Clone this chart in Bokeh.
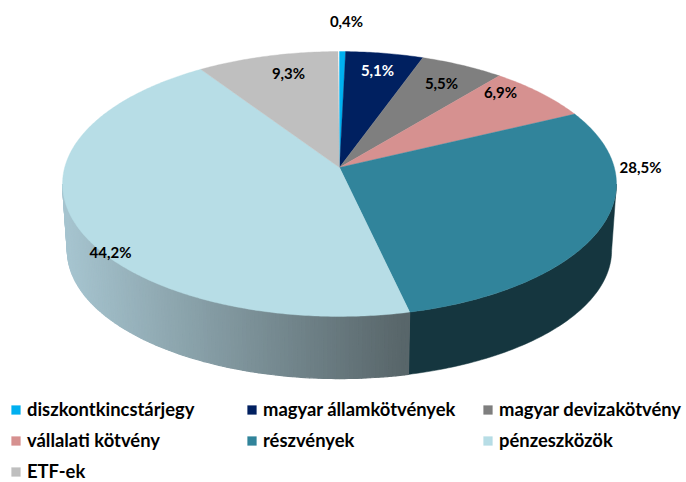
from bokeh.plotting import figure
from bokeh.models import Range1d, Legend, LegendItem
from bokeh.core.properties import value
from bokeh.embed import file_html
from bokeh.resources import INLINE
import numpy as np

# ---- data
categories = ["diszkontkincstárjegy", "magyar államkötvények", "magyar devizakötvény",
              "vállalati kötvény", "részvények", "pénzeszközök", "ETF-ek"]
shares = [0.4, 5.1, 5.5, 6.9, 28.5, 44.2, 9.3]
share_labels = ["0,4%", "5,1%", "5,5%", "6,9%", "28,5%", "44,2%", "9,3%"]

# ---- styles
face_colors = ["#00B0F0", "#002060", "#7F7F7F", "#D69190", "#31849B", "#B7DDE6", "#BFBFBF"]
label_colors = ["#000000", "#FFFFFF", "#000000", "#000000", "#000000", "#000000", "#000000"]
label_x = [346, 377, 441, 500, 640, 110, 288]
label_y = [20.5, 69.5, 82.5, 91.5, 166.5, 251.5, 72.5]
wall_dark = "#15363F"
wall_left = np.array([0xA6, 0xC4, 0xCF])
wall_right = np.array([0x58, 0x66, 0x6A])

FONT = "Lato"
K = 0.1245
CX = 339


def face(theta):
    u, v = np.sin(theta), np.cos(theta)
    w = 1 + K * v
    return CX + 274.8 * u / w, (167 - 109.6 * v) / w


def base(theta):
    u, v = np.sin(theta), np.cos(theta)
    w = 1 + K * v
    return CX + 270 * u / w, (234 - 97 * v) / w


p = figure(width=686, height=482, x_range=Range1d(0, 686), y_range=Range1d(482, 0),
           output_backend="svg", toolbar_location=None, min_border=0,
           outline_line_color=None, background_fill_color="white")
p.axis.visible = False
p.grid.visible = False

edges = np.radians(np.concatenate([[0], np.cumsum(shares)]) * 3.6)

# side wall
t_start = np.pi / 2 + np.arcsin(K)
t_end = 2 * np.pi - t_start
split = edges[5]

ts = np.linspace(t_start, split, 80)
xa, ya = face(ts)
xb, yb = base(ts[::-1])
p.patch(np.r_[xa, xb], np.r_[ya, yb], fill_color=wall_dark, line_color=wall_dark, line_width=0.5)

# the lighter wall is drawn in thin strips so its gradient can follow x
ts = np.linspace(split, t_end, 120)
for a, b in zip(ts[:-1], ts[1:]):
    xa, ya = face(np.array([a, b]))
    xb, yb = base(np.array([b, a]))
    f = np.clip((400 - (xb.mean())) / (400 - 70), 0, 1)
    c = wall_right + (wall_left - wall_right) * f
    col = "#%02x%02x%02x" % tuple(int(round(q)) for q in c)
    p.patch(np.r_[xa, xb], np.r_[ya, yb], fill_color=col, line_color=col, line_width=1.2)

# top face
items = []
for i, cat in enumerate(categories):
    th = np.linspace(edges[i], edges[i + 1], max(3, int(shares[i] * 6)))
    x, y = face(th)
    r = p.patch(np.r_[CX, x], np.r_[167, y], fill_color=face_colors[i], line_color=face_colors[i], line_width=0.4)
    items.append(LegendItem(label=cat, renderers=[r]))

p.text(label_x, label_y, text=share_labels, text_color=label_colors, text_font=value(FONT),
       text_font_style="bold", text_font_size="15px", text_align="center", text_baseline="middle")

leg = Legend(items=items, orientation="horizontal", ncols=3, location=(10, 0),
             glyph_width=11, glyph_height=11, label_standoff=6, label_height=20, label_width=210,
             spacing=9, padding=0, margin=0, border_line_color=None, background_fill_alpha=0,
             label_text_font=FONT, label_text_font_style="bold", label_text_font_size="18.4px",
             label_text_color="#000000")
p.add_layout(leg, "center")

open("out.html", "w").write(file_html(p, INLINE))
